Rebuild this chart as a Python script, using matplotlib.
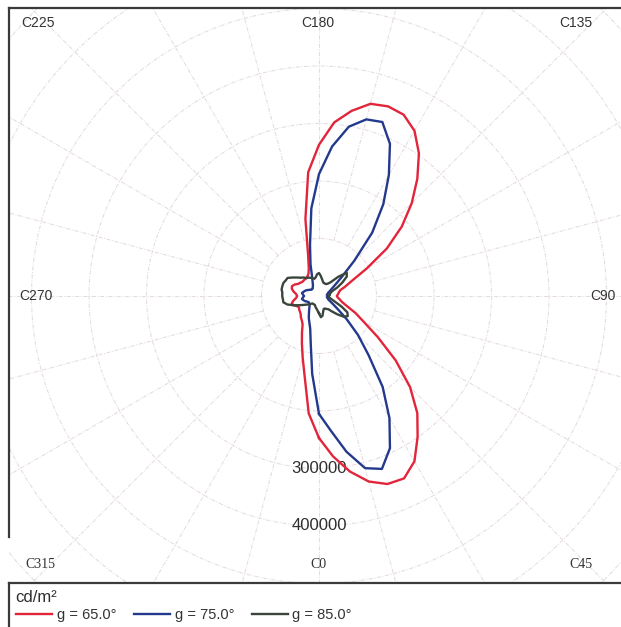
import numpy as np
import matplotlib
matplotlib.use('Agg')
import matplotlib.pyplot as plt
from matplotlib.patches import Rectangle
from matplotlib.lines import Line2D

plt.rcParams['font.family'] = ['Liberation Sans', 'DejaVu Sans']

# C-planes (deg) and luminance values (x1000 cd/m2)
c_planes = np.arange(0, 360, 5)
lum_g65 = np.array([
    247, 280, 310, 334, 348, 350, 332, 299, 266, 224, 174, 125,
    90, 70, 52, 42, 37, 33, 31, 33, 35, 38, 49, 64,
    96, 144, 188, 228, 266, 303, 332, 348, 351, 346, 327, 303,
    263, 216, 136, 73, 52, 43, 40, 38, 38, 38, 38, 40,
    42, 47, 50, 49, 45, 40, 38, 40, 45, 49, 47, 42,
    40, 42, 43, 45, 49, 52, 57, 70, 87, 110, 143, 205]) * 1000
lum_g75 = np.array([
    205, 235, 275, 310, 320, 292, 245, 193, 134, 96, 63, 40,
    28, 21, 17, 16, 14, 14, 14, 14, 14, 16, 17, 21,
    26, 35, 52, 87, 144, 195, 243, 292, 322, 318, 299, 261,
    212, 153, 90, 57, 35, 26, 21, 19, 17, 17, 17, 19,
    21, 24, 26, 28, 30, 28, 26, 28, 30, 28, 26, 23,
    21, 21, 21, 23, 26, 30, 35, 42, 49, 59, 83, 136]) * 1000
lum_g85 = np.array([
    30, 37, 35, 28, 24, 24, 26, 28, 35, 45, 56, 61,
    57, 43, 30, 23, 19, 17, 17, 19, 19, 21, 24, 35,
    47, 59, 63, 47, 31, 26, 24, 24, 24, 26, 30, 35,
    40, 38, 33, 31, 33, 35, 37, 38, 42, 45, 50, 56,
    63, 64, 66, 66, 66, 64, 64, 63, 63, 57, 47, 38,
    31, 26, 23, 19, 17, 17, 17, 17, 19, 21, 23, 26]) * 1000

series = [lum_g65, lum_g75, lum_g85]
series_labels = ['g = 65.0°', 'g = 75.0°', 'g = 85.0°']
series_colors = ['#e2253a', '#23398c', '#3a463c']
ring_values = np.arange(100000, 800000, 100000)
ring_labels = [300000, 400000]
spoke_angles = np.arange(0, 360, 15)

W, H = 621, 627
def fx(px):
    return px / W
def fy(py):
    return 1 - py / H

fig = plt.figure(figsize=(W / 100, H / 100), dpi=100)

# polar area: centre and scale
cx, cy = 319, 296
px_per_100k = 57.5
R = 440
rmax = R / px_per_100k * 100000
ax = fig.add_axes([fx(cx - R), fy(cy + R), 2 * R / W, 2 * R / H], projection='polar')
ax.set_theta_zero_location('S')
ax.set_theta_direction(1)
ax.set_ylim(0, rmax)
ax.set_xticks([])
ax.set_yticks(ring_values)
ax.set_yticklabels([])
ax.spines['polar'].set_visible(False)
ax.patch.set_visible(False)

grid_color = '#e4dbe1'
grid_style = (0, (4, 1.5, 1, 1.5))
ax.grid(axis='y', color=grid_color, linestyle=grid_style, linewidth=0.75)
spokes = ax.vlines(np.deg2rad(spoke_angles), 100000, rmax, colors=grid_color,
                   linestyles=[grid_style], linewidth=0.75)

clip = Rectangle((fx(9), fy(583)), (W - 9) / W, (583 - 8) / H, transform=fig.transFigure)
ax.yaxis.set_clip_path(clip)
for gl in ax.yaxis.get_gridlines():
    gl.set_clip_path(clip)
spokes.set_clip_path(clip)

handles = []
for vals, lab, col in zip(series, series_labels, series_colors):
    th = np.deg2rad(np.append(c_planes, c_planes[0] + 360))
    rr = np.append(vals, vals[0])
    ln, = ax.plot(th, rr, color=col, linewidth=1.7, label=lab, zorder=3)
    handles.append(ln)

for v in ring_labels:
    ax.text(0, v, str(v), ha='center', va='center', fontsize=12, color='#2e2e2e', zorder=2)

# C-plane labels around the frame
sans_labels = [('C225', 38, 23), ('C180', 318, 23), ('C135', 576, 23),
               ('C270', 36, 296), ('C90', 603, 296)]
serif_labels = [('C315', 40, 564), ('C0', 318, 564), ('C45', 581, 564)]
for t, x, y in sans_labels:
    fig.text(fx(x), fy(y), t, ha='center', va='center', fontsize=10, color='#333333')
for t, x, y in serif_labels:
    fig.text(fx(x), fy(y), t, ha='center', va='center', fontsize=10, color='#333333',
             family='Liberation Serif')

# frame pieces
frame_kw = dict(transform=fig.transFigure, color='#3a3a3a', linewidth=1.6)
fig.add_artist(Line2D([fx(9), fx(9)], [fy(8), fy(537)], **frame_kw))
fig.add_artist(Line2D([fx(9), 1], [fy(8), fy(8)], **frame_kw))
fig.add_artist(Line2D([fx(9), 1], [fy(583), fy(583)], **frame_kw))
fig.add_artist(Line2D([fx(9), fx(9)], [fy(583), 0], **frame_kw))

fig.text(fx(15), fy(598), 'cd/m²', fontsize=12, ha='left', va='center', color='#2e2e2e')
leg = fig.legend(handles, series_labels, loc='center left', bbox_to_anchor=(fx(16), fy(615)),
                 ncol=3, frameon=False, fontsize=10.5, handlelength=2.5, handletextpad=0.3,
                 columnspacing=1.2, borderpad=0, borderaxespad=0)
for txt in leg.get_texts():
    txt.set_color('#333333')

fig.savefig('out.png', dpi=100)
